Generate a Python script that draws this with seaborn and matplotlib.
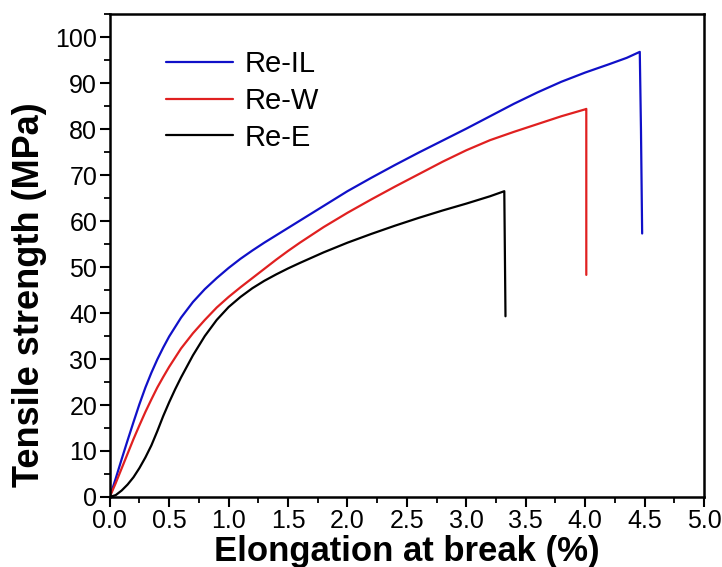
import seaborn as sns
import pandas as pd
import matplotlib.pyplot as plt
from matplotlib.ticker import MultipleLocator, FormatStrFormatter

# stress-strain curves (x in %, y in MPa)
re_il_x = [0, 0.05, 0.1, 0.15, 0.2, 0.25, 0.3, 0.35, 0.4, 0.45, 0.5, 0.6, 0.7, 0.8, 0.9, 1.0,
           1.1, 1.2, 1.3, 1.4, 1.5, 1.6, 1.8, 2.0, 2.2, 2.4, 2.6, 2.8, 3.0, 3.2, 3.4, 3.6,
           3.8, 4.0, 4.2, 4.35, 4.46, 4.47, 4.48]
re_il_y = [0, 4, 8.2, 12.3, 16.3, 20.2, 23.8, 27.0, 29.9, 32.5, 34.9, 39.0, 42.4, 45.2, 47.6, 49.8,
           51.8, 53.6, 55.3, 56.9, 58.5, 60.1, 63.3, 66.5, 69.4, 72.2, 74.9, 77.5, 80.1, 82.8, 85.5, 88.0,
           90.3, 92.3, 94.1, 95.5, 96.8, 80.0, 57.3]

re_w_x = [0, 0.05, 0.1, 0.15, 0.2, 0.25, 0.3, 0.35, 0.4, 0.45, 0.5, 0.6, 0.7, 0.8, 0.9, 1.0,
          1.1, 1.2, 1.3, 1.4, 1.5, 1.6, 1.8, 2.0, 2.2, 2.4, 2.6, 2.8, 3.0, 3.2, 3.4, 3.6,
          3.8, 4.0, 4.01, 4.01]
re_w_y = [0, 3, 6.2, 9.4, 12.6, 15.6, 18.5, 21.2, 23.8, 26.1, 28.3, 32.3, 35.6, 38.5, 41.2, 43.5,
          45.6, 47.6, 49.6, 51.6, 53.5, 55.3, 58.7, 61.8, 64.7, 67.5, 70.2, 72.9, 75.4, 77.6, 79.4, 81.1,
          82.8, 84.3, 84.4, 48.3]

re_e_x = [0, 0.05, 0.1, 0.15, 0.2, 0.25, 0.3, 0.35, 0.4, 0.45, 0.5, 0.55, 0.6, 0.7, 0.8, 0.9,
          1.0, 1.1, 1.2, 1.3, 1.4, 1.5, 1.6, 1.8, 2.0, 2.2, 2.4, 2.6, 2.8, 3.0, 3.2, 3.32, 3.33]
re_e_y = [0, 0.4, 1.4, 2.7, 4.3, 6.3, 8.6, 11.2, 14.3, 17.6, 20.6, 23.4, 26.0, 30.8, 35.0, 38.5,
          41.3, 43.5, 45.4, 47.0, 48.4, 49.7, 50.9, 53.2, 55.3, 57.2, 59.0, 60.7, 62.3, 63.8, 65.4, 66.5, 39.3]

labels = ['Re-IL', 'Re-W', 'Re-E']
colors = ['#1010c8', '#e02020', 'black']

frames = []
for lab, xs, ys in zip(labels, [re_il_x, re_w_x, re_e_x], [re_il_y, re_w_y, re_e_y]):
    frames.append(pd.DataFrame({'strain': xs, 'stress': ys, 'sample': lab}))
df = pd.concat(frames, ignore_index=True)

sns.set_style('ticks', {'axes.edgecolor': 'black', 'text.color': 'black',
                        'xtick.color': 'black', 'ytick.color': 'black', 'axes.labelcolor': 'black'})
plt.rcParams['font.family'] = ['Liberation Sans', 'DejaVu Sans']

fig = plt.figure(figsize=(7.22, 5.67), dpi=100)
ax = fig.add_axes([0.152, 0.1235, 0.823, 0.8515])

sns.lineplot(data=df, x='strain', y='stress', hue='sample', palette=dict(zip(labels, colors)),
             sort=False, estimator=None, linewidth=1.6, ax=ax)

ax.set_xlim(0, 5)
ax.set_ylim(0, 105)
ax.xaxis.set_major_locator(MultipleLocator(0.5))
ax.xaxis.set_minor_locator(MultipleLocator(0.25))
ax.xaxis.set_major_formatter(FormatStrFormatter('%.1f'))
ax.yaxis.set_major_locator(MultipleLocator(10))
ax.yaxis.set_minor_locator(MultipleLocator(5))

ax.tick_params(which='major', direction='out', length=7, width=1.5, labelsize=18, pad=2)
ax.tick_params(which='minor', direction='out', length=4, width=1.3)
for s in ax.spines.values():
    s.set_linewidth(1.8)
    s.set_visible(True)

ax.set_xlabel('Elongation at break (%)', fontsize=25, fontweight='bold')
ax.set_ylabel('Tensile strength (MPa)', fontsize=26, fontweight='bold')
ax.xaxis.set_label_coords(0.5, -0.078)
ax.yaxis.set_label_coords(-0.105, 0.42)

ax.legend(title=None, frameon=False, fontsize=21, loc='upper left', bbox_to_anchor=(0.05, 0.98),
          handlelength=2.3, handletextpad=0.4, labelspacing=0.3)

fig.savefig('out.png', dpi=100)
